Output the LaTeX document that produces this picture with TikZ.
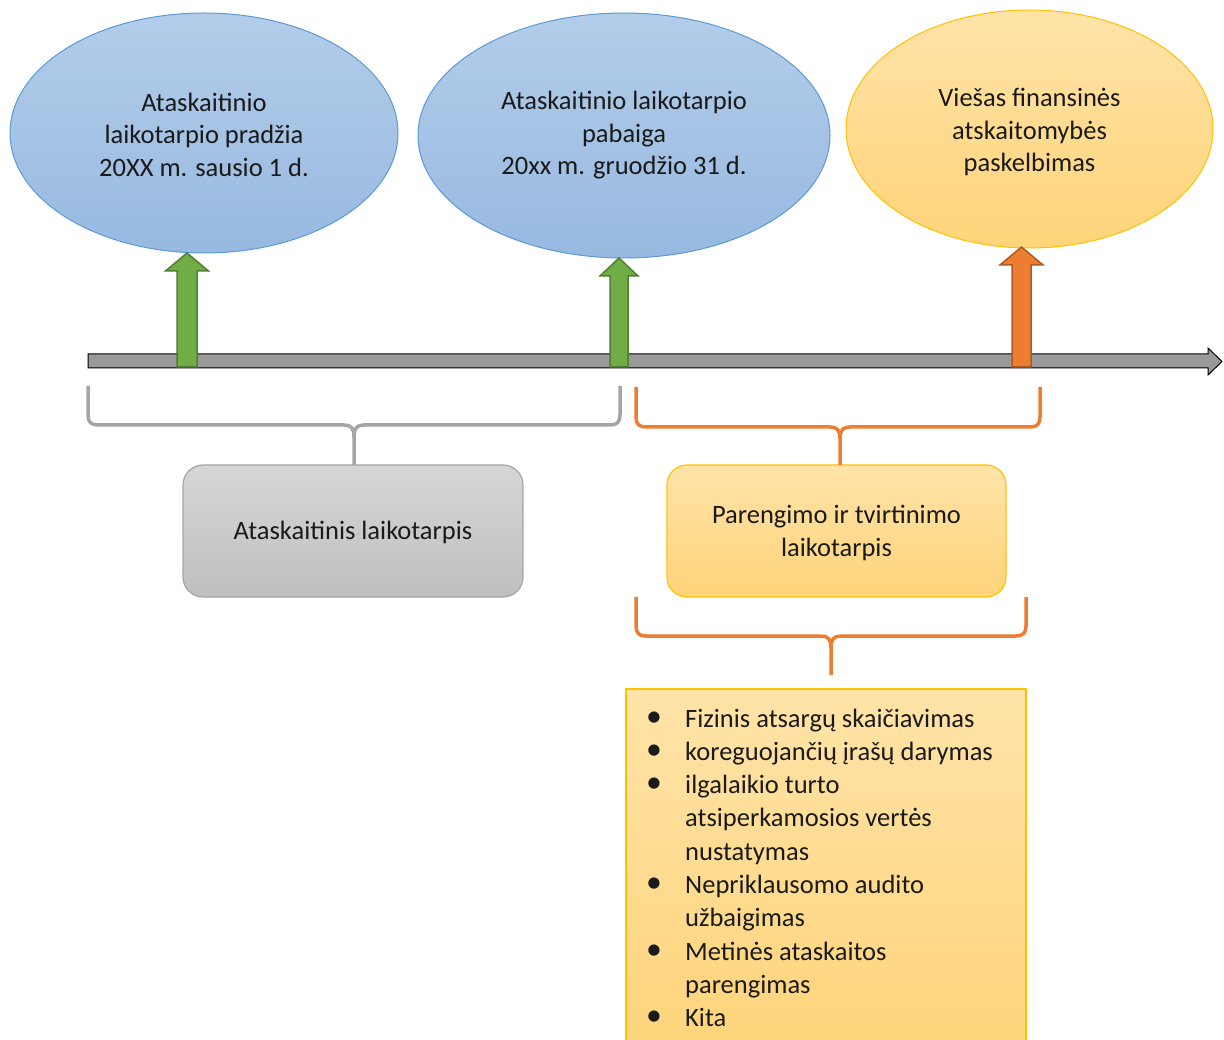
\documentclass[tikz,border=0pt]{standalone}
\usepackage{fontspec}
\setmainfont{Carlito}
\usetikzlibrary{shapes.geometric}

\definecolor{blueA}{HTML}{B3CDE9}
\definecolor{blueB}{HTML}{97B9E1}
\definecolor{blueLine}{HTML}{5B9BD5}
\definecolor{goldA}{HTML}{FFE3A8}
\definecolor{goldB}{HTML}{FFD47A}
\definecolor{goldLine}{HTML}{FFC000}
\definecolor{greyA}{HTML}{D6D6D6}
\definecolor{greyB}{HTML}{BFBFBF}
\definecolor{greyLine}{HTML}{A5A5A5}
\definecolor{greenFill}{HTML}{70AD47}
\definecolor{greenLine}{HTML}{507E32}
\definecolor{orangeFill}{HTML}{ED7D31}
\definecolor{orangeLine}{HTML}{AE5A21}
\definecolor{ink}{HTML}{1A1A1A}

% curly bracket: colour, x-left, x-right, x-middle, y-top, y-bar, y-bottom
\newcommand\tlbrace[7]{%
  \draw[#1, line width=3.5pt]
    (#2,#5) -- (#2,#6-10) .. controls (#2,#6-3) and (#2+3,#6) .. (#2+10,#6)
    -- (#4-10,#6) .. controls (#4-3,#6) and (#4,#6+3) .. (#4,#6+12) -- (#4,#7);
  \draw[#1, line width=3.5pt]
    (#3,#5) -- (#3,#6-10) .. controls (#3,#6-3) and (#3-3,#6) .. (#3-10,#6)
    -- (#4+10,#6) .. controls (#4+3,#6) and (#4,#6+3) .. (#4,#6+12);
}
% upward block arrow: style, x-centre, shaft half-width, head half-width, y-tip, y-head-base, y-bottom
\newcommand\uparr[7]{%
  \draw[#1] (#2-#3,#7) -- (#2-#3,#6) -- (#2-#4,#6) -- (#2,#5)
    -- (#2+#4,#6) -- (#2+#3,#6) -- (#2+#3,#7) -- cycle;
}

\begin{document}
\begin{tikzpicture}[x=1pt, y=-1pt,
  every node/.style={font=\fontsize{26.5}{32.5}\selectfont, text=ink, inner sep=0pt},
  caption/.style={align=center},
  blueell/.style={ellipse, draw=blueLine, line width=1pt, top color=blueA, bottom color=blueB},
  goldell/.style={ellipse, draw=goldLine, line width=1pt, top color=goldA, bottom color=goldB},
  greybox/.style={rectangle, rounded corners=20pt, draw=greyLine, line width=1.2pt, top color=greyA, bottom color=greyB},
  goldbox/.style={rectangle, rounded corners=20pt, draw=goldLine, line width=1.2pt, top color=goldA, bottom color=goldB},
  listbox/.style={rectangle, draw=goldLine, line width=1.2pt, top color=goldA, bottom color=goldB},
  greenarr/.style={fill=greenFill, draw=greenLine, line width=1.5pt},
  orangearr/.style={fill=orangeFill, draw=orangeLine, line width=1.5pt},
  axisarr/.style={fill=black!40, draw=black, line width=1pt}
]
\useasboundingbox (0,0) rectangle (1224,1040);
\clip (0,0) rectangle (1224,1040);

% events above the time line
\node[blueell, minimum width=388pt, minimum height=240pt] (e1) at (204,133) {};
\node[caption] (e1t) at (204,134.5)
  {Ataskaitinio\\laikotarpio pradžia\\20XX m. sausio 1 d.};
\node[blueell, minimum width=412pt, minimum height=245pt] (e2) at (624,135.5) {};
\node[caption] (e2t) at (624,135.5)
  {Ataskaitinio laikotarpio\\pabaiga\\20xx m. gruodžio 31 d.};
\node[goldell, minimum width=367pt, minimum height=238pt] (e3) at (1029.5,129) {};
\node[caption] (e3t) at (1029.5,132)
  {Viešas finansinės\\atskaitomybės\\paskelbimas};

% time line
\draw[axisarr] (88,354) -- (1208,354) -- (1208,348) -- (1222,361.5)
  -- (1208,375) -- (1208,368) -- (88,368) -- cycle;

% markers on the time line
\uparr{greenarr}{187}{10}{21.5}{253}{271}{367}
\uparr{greenarr}{619}{9}{19}{258}{276}{367}
\uparr{orangearr}{1021.5}{9.5}{21.5}{247}{265}{367}

% periods
\node[greybox, minimum width=340pt, minimum height=132pt] (p1) at (353,531) {};
\node[caption] (p1t) at (353,532) {Ataskaitinis laikotarpis};
\node[goldbox, minimum width=339pt, minimum height=132pt] (p2) at (836.5,531) {};
\node[caption] (p2t) at (836.5,533) {Parengimo ir tvirtinimo\\laikotarpis};

\tlbrace{greyLine}{88}{620}{354}{386}{425}{465}
\tlbrace{orangeFill}{636}{1040}{840}{387}{427}{465}
\tlbrace{orangeFill}{636}{1026}{831}{597}{636}{675}

% tasks of the preparation period
\node[listbox, minimum width=400pt, minimum height=370pt] (tasks) at (826,874) {};
\newcommand\bul{\makebox[39pt][l]{\raisebox{1pt}{\scalebox{1.2}{\textbullet}}}}
\node[anchor=base west, font=\fontsize{26.5}{33.3}\selectfont] (tasklist) at (646,727) {%
  \begin{tabular}[t]{@{}l@{}l@{}}
  \bul & Fizinis atsargų skaičiavimas\\
  \bul & koreguojančių įrašų darymas\\
  \bul & ilgalaikio turto\\
       & atsiperkamosios vertės\\
       & nustatymas\\
  \bul & Nepriklausomo audito\\
       & užbaigimas\\
  \bul & Metinės ataskaitos\\
       & parengimas\\
  \bul & Kita
  \end{tabular}};
\end{tikzpicture}
\end{document}
